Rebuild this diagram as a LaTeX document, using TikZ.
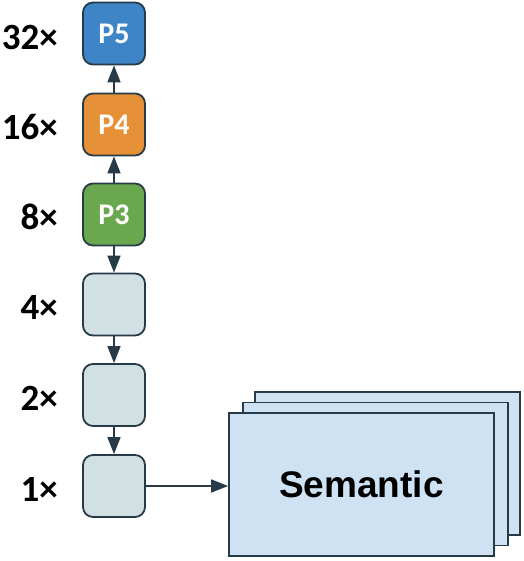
\documentclass[tikz,border=0pt]{standalone}
\usepackage{fontspec}
\setmainfont{Carlito}
\newfontfamily\arialf{Liberation Sans}
\usetikzlibrary{arrows.meta}
\definecolor{strk}{HTML}{263A47}
\definecolor{pblue}{HTML}{3D85C6}
\definecolor{porange}{HTML}{E69138}
\definecolor{pgreen}{HTML}{6AA84F}
\definecolor{pgray}{HTML}{D0E0E3}
\definecolor{semfill}{HTML}{CFE2F3}
\begin{document}
\begin{tikzpicture}[x=1pt,y=-1pt,
  lvl/.style={draw=strk,line width=1.8pt,rounded corners=10pt,minimum width=62pt,minimum height=62pt,inner sep=0pt,
    font=\fontsize{30}{30}\selectfont\bfseries,text=white},
  scl/.style={anchor=east,inner sep=0pt,font=\fontsize{37}{37}\selectfont\bfseries},
  sem/.style={draw=strk,line width=1.8pt,fill=semfill,minimum width=265pt,minimum height=143pt,inner sep=0pt},
  conn/.style={draw=strk,line width=1.6pt,-{Triangle[length=17pt,width=13pt]}}]
\useasboundingbox (0,0) rectangle (523,561);
\node[lvl,fill=pblue] (p5) at (114,33.5) {P5};
\node[lvl,fill=porange] (p4) at (114,124.5) {P4};
\node[lvl,fill=pgreen] (p3) at (114,214.5) {P3};
\node[lvl,fill=pgray] (c4) at (114,304.5) {};
\node[lvl,fill=pgray] (c2) at (114,395) {};
\node[lvl,fill=pgray] (c1) at (114,486) {};
\node[scl] (l32) at (58,37) {32×};
\node[scl] (l16) at (58,127) {16×};
\node[scl] (l8) at (58,217) {8×};
\node[scl] (l4) at (58,307) {4×};
\node[scl] (l2) at (58,398) {2×};
\node[scl] (l1) at (58,489) {1×};
\node[sem] (s3) at (387.5,463.5) {};
\node[sem] (s2) at (375.5,474) {};
\node[sem,font=\arialf\fontsize{37}{37}\selectfont\bfseries] (s1) at (361.5,484.5) {Semantic};
\draw[conn] (p3) -- (p4);
\draw[conn] (p4) -- (p5);
\draw[conn] (p3) -- (c4);
\draw[conn] (c4) -- (c2);
\draw[conn] (c2) -- (c1);
\draw[conn] (c1.east) -- (s1.west |- c1.east);
\end{tikzpicture}
\end{document}
